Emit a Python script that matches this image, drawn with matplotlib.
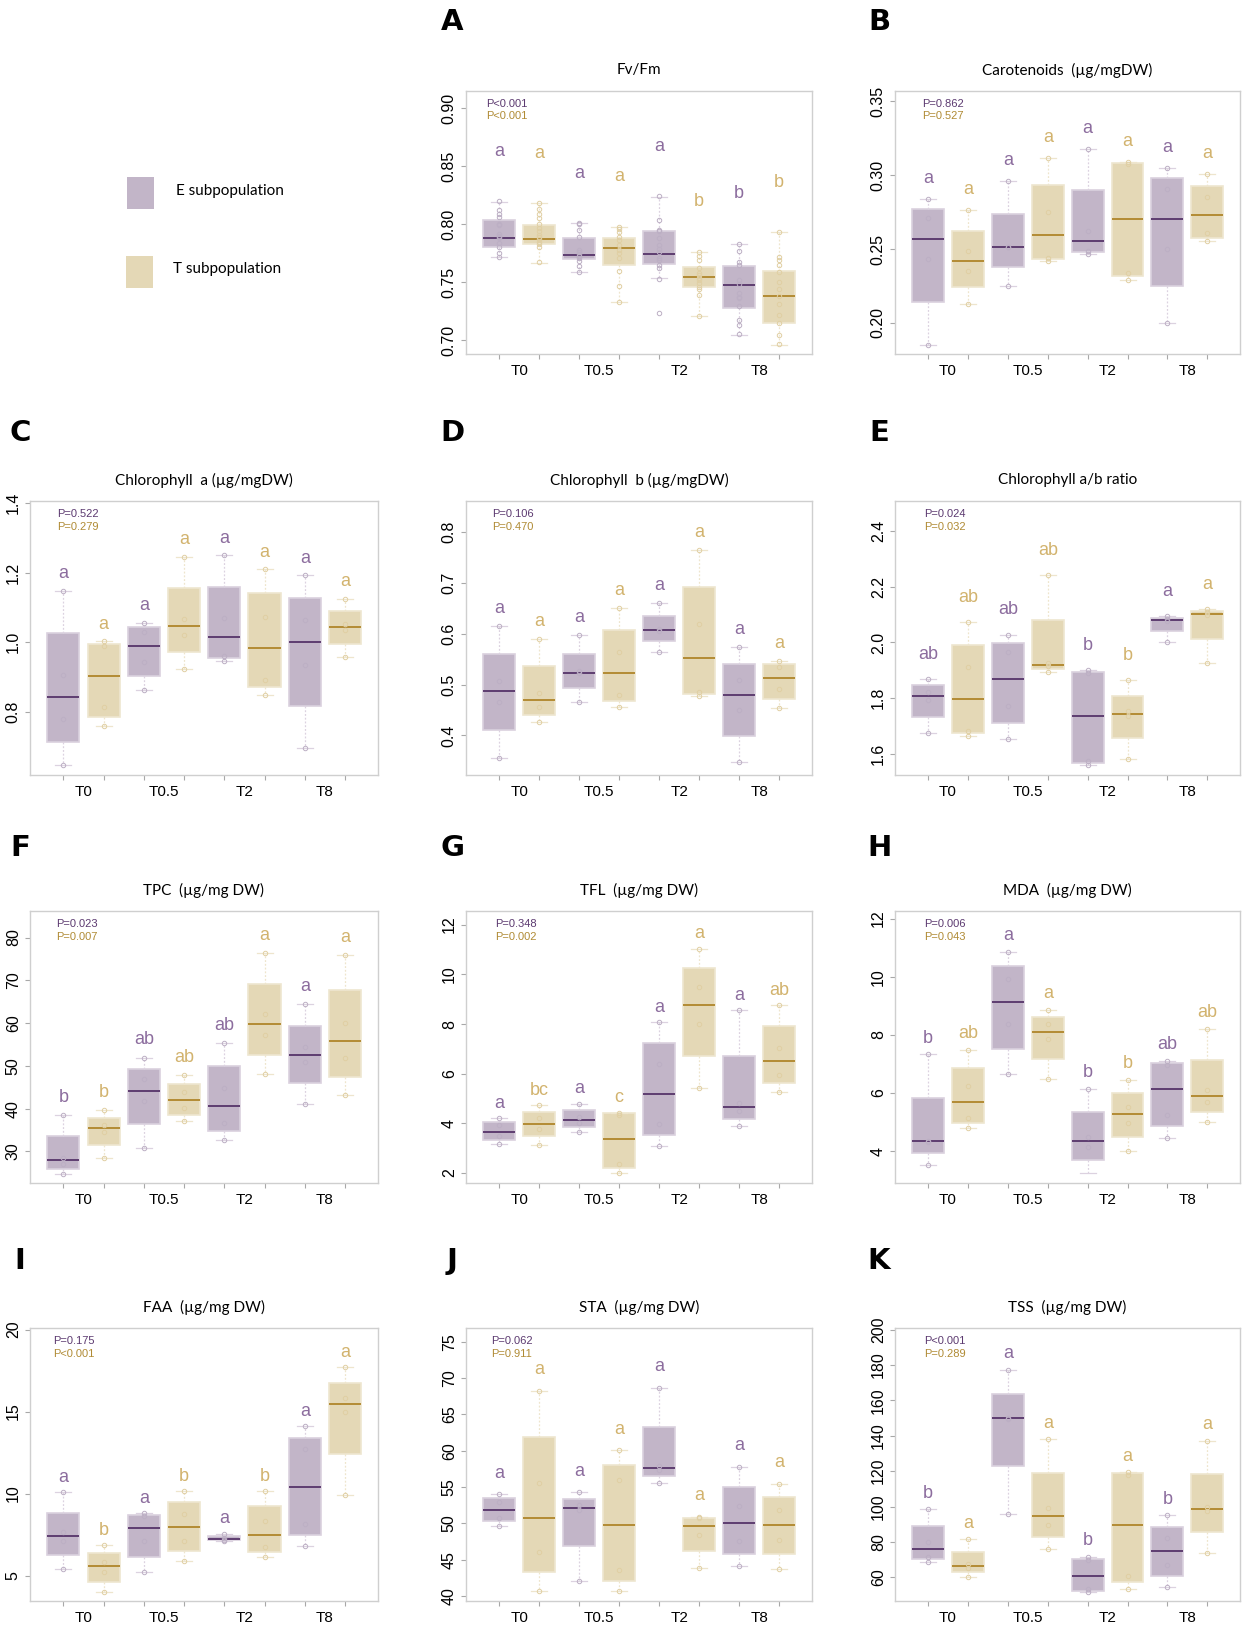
import matplotlib
matplotlib.use("Agg")
import matplotlib.pyplot as plt
from matplotlib.patches import Rectangle

# ---------------------------------------------------------------- data
# box stats per time point: [whislo, q1, median, q3, whishi]
times = ["T0", "T0.5", "T2", "T8"]

a_title = "Fv/Fm"
a_p = ["P<0.001", "P<0.001"]
a_e = [[0.772, 0.780, 0.7885, 0.8035, 0.8196], [0.759, 0.770, 0.7738, 0.7879, 0.8009],
       [0.7533, 0.766, 0.7746, 0.7945, 0.8239], [0.7046, 0.7274, 0.7478, 0.7643, 0.783]]
a_t = [[0.7669, 0.7827, 0.7873, 0.7994, 0.8182], [0.7329, 0.7651, 0.7798, 0.7885, 0.798],
       [0.721, 0.7461, 0.7548, 0.7634, 0.7761], [0.696, 0.715, 0.7383, 0.760, 0.7931]]
a_e_pts = [[0.820, 0.812, 0.809, 0.806, 0.800, 0.799, 0.792, 0.790, 0.789, 0.788, 0.784, 0.780, 0.775, 0.772],
           [0.801, 0.800, 0.795, 0.789, 0.778, 0.776, 0.774, 0.773, 0.771, 0.768, 0.764, 0.759],
           [0.824, 0.804, 0.795, 0.794, 0.788, 0.782, 0.779, 0.776, 0.771, 0.769, 0.765, 0.762, 0.753, 0.723],
           [0.783, 0.777, 0.767, 0.765, 0.752, 0.748, 0.741, 0.737, 0.736, 0.729, 0.717, 0.713, 0.705]]
a_t_pts = [[0.818, 0.813, 0.809, 0.805, 0.800, 0.797, 0.794, 0.791, 0.789, 0.787, 0.785, 0.783, 0.780, 0.767],
           [0.798, 0.796, 0.793, 0.789, 0.786, 0.782, 0.778, 0.775, 0.771, 0.760, 0.747, 0.733],
           [0.776, 0.773, 0.769, 0.762, 0.758, 0.756, 0.754, 0.752, 0.749, 0.746, 0.744, 0.739, 0.721],
           [0.793, 0.772, 0.769, 0.765, 0.759, 0.750, 0.744, 0.738, 0.731, 0.722, 0.715, 0.704, 0.697]]
a_let_e = ["a", "a", "a", "b"]
a_let_t = ["a", "a", "b", "b"]

b_title = "Carotenoids  (\u00b5g/mgDW)"
b_p = ["P=0.862", "P=0.527"]
b_e = [[0.1853, 0.2142, 0.2568, 0.2771, 0.2839], [0.2248, 0.2379, 0.2514, 0.274, 0.2963],
       [0.2467, 0.2478, 0.2555, 0.29, 0.3177], [0.1998, 0.2248, 0.2704, 0.2979, 0.3051]]
b_t = [[0.2128, 0.2241, 0.2419, 0.2622, 0.2765], [0.242, 0.2431, 0.2595, 0.2932, 0.3116],
       [0.2293, 0.2316, 0.2704, 0.3083, 0.3089], [0.2555, 0.2577, 0.2731, 0.2929, 0.3008]]
b_e_pts = [[0.2839, 0.271, 0.2435, 0.1853], [0.2963, 0.2516, 0.2512, 0.2248],
           [0.3177, 0.2625, 0.249, 0.2467], [0.3051, 0.2909, 0.2503, 0.1998]]
b_t_pts = [[0.2765, 0.2487, 0.2349, 0.2128], [0.3116, 0.2749, 0.2437, 0.242],
           [0.3089, 0.3075, 0.2336, 0.2293], [0.3008, 0.285, 0.2607, 0.2555]]
b_let_e = ["a", "a", "a", "a"]
b_let_t = ["a", "a", "a", "a"]

c_title = "Chlorophyll  a (\u00b5g/mgDW)"
c_p = ["P=0.522", "P=0.279"]
c_e = [[0.6493, 0.715, 0.8439, 1.028, 1.1482], [0.8629, 0.903, 0.9889, 1.0432, 1.0556],
       [0.9478, 0.9545, 1.0146, 1.1596, 1.2502], [0.696, 0.8181, 1.0003, 1.1262, 1.193]]
c_t = [[0.7609, 0.7876, 0.903, 0.9965, 1.0032], [0.925, 0.9726, 1.0461, 1.1567, 1.2455],
       [0.8496, 0.8716, 0.9831, 1.1405, 1.2092], [0.9593, 0.9965, 1.0432, 1.089, 1.1243]]
c_e_pts = [[1.148, 0.9078, 0.7809, 0.6493], [1.0556, 1.0308, 0.944, 0.8629],
           [1.2502, 1.0709, 0.9612, 0.9478], [1.193, 1.0642, 0.9364, 0.696]]
c_t_pts = [[1.0032, 0.9898, 0.8143, 0.7609], [1.2455, 1.068, 1.0222, 0.925],
           [1.2092, 1.0718, 0.8925, 0.8496], [1.1243, 1.0528, 1.0346, 0.9593]]
c_let_e = ["a", "a", "a", "a"]
c_let_t = ["a", "a", "a", "a"]

d_title = "Chlorophyll  b (\u00b5g/mgDW)"
d_p = ["P=0.106", "P=0.470"]
d_e = [[0.3546, 0.4105, 0.4875, 0.5605, 0.6145], [0.4651, 0.4928, 0.5224, 0.5605, 0.5974],
       [0.5638, 0.5849, 0.6072, 0.6355, 0.6612], [0.3474, 0.3987, 0.4789, 0.5401, 0.573]]
d_t = [[0.4257, 0.4408, 0.4697, 0.5362, 0.5895], [0.4566, 0.4684, 0.5224, 0.6072, 0.6507],
       [0.4776, 0.4809, 0.552, 0.6914, 0.7651], [0.4533, 0.4724, 0.5125, 0.5395, 0.546]]
d_e_pts = [[0.6145, 0.5072, 0.4658, 0.3546], [0.5974, 0.5263, 0.5217, 0.4651],
           [0.6612, 0.6092, 0.606, 0.5638], [0.573, 0.5086, 0.4507, 0.3474]]
d_t_pts = [[0.5895, 0.4842, 0.4559, 0.4257], [0.6507, 0.5645, 0.4796, 0.4566],
           [0.7651, 0.6184, 0.4849, 0.4776], [0.546, 0.5336, 0.4921, 0.4533]]
d_let_e = ["a", "a", "a", "a"]
d_let_t = ["a", "a", "a", "a"]

e_title = "Chlorophyll a/b ratio"
e_p = ["P=0.024", "P=0.032"]
e_e = [[1.6744, 1.7319, 1.8075, 1.8459, 1.8699], [1.654, 1.7103, 1.8687, 1.997, 2.0282],
       [1.5616, 1.5688, 1.7343, 1.895, 1.8999], [2.0006, 2.0402, 2.081, 2.087, 2.0942]]
e_t = [[1.6648, 1.6732, 1.7967, 1.9922, 2.0738], [1.8927, 1.9047, 1.919, 2.081, 2.2405],
       [1.5808, 1.6564, 1.7415, 1.8075, 1.8651], [1.9274, 2.0126, 2.1026, 2.1121, 2.1205]]
e_e_pts = [[1.8699, 1.8231, 1.7919, 1.6744], [2.0282, 1.9646, 1.7703, 1.654],
           [1.8999, 1.8903, 1.576, 1.5616], [2.0942, 2.085, 2.078, 2.0006]]
e_t_pts = [[2.0738, 1.9107, 1.6828, 1.6648], [2.2405, 1.9262, 1.9142, 1.8927],
           [1.8651, 1.7535, 1.7343, 1.5808], [2.1205, 2.11, 2.098, 1.9274]]
e_let_e = ["ab", "ab", "b", "a"]
e_let_t = ["ab", "ab", "b", "a"]

f_title = "TPC  (\u00b5g/mg DW)"
f_p = ["P=0.023", "P=0.007"]
f_e = [[24.81, 25.97, 27.91, 33.49, 38.45], [30.85, 36.28, 44.19, 49.3, 51.94],
       [32.64, 34.65, 40.7, 49.92, 55.27], [41.09, 45.89, 52.56, 59.3, 64.42]]
f_t = [[28.45, 31.55, 35.35, 37.91, 39.61], [37.05, 38.53, 42.09, 45.81, 47.83],
       [47.98, 52.64, 59.77, 69.15, 76.28], [43.1, 47.36, 55.81, 67.83, 75.81]]
f_e_pts = [[38.45, 28.53, 27.13, 24.81], [51.94, 46.82, 41.71, 30.85],
           [55.27, 44.73, 36.67, 32.64], [64.42, 54.34, 50.78, 41.09]]
f_t_pts = [[39.61, 36.2, 34.57, 28.45], [47.83, 43.88, 40.08, 37.05],
           [76.28, 62.17, 57.29, 47.98], [75.81, 59.92, 51.78, 43.1]]
f_let_e = ["b", "ab", "ab", "a"]
f_let_t = ["b", "ab", "a", "a"]

g_title = "TFL  (\u00b5g/mg DW)"
g_p = ["P=0.348", "P=0.002"]
g_e = [[3.165, 3.312, 3.673, 4.075, 4.222], [3.673, 3.847, 4.129, 4.53, 4.798],
       [3.071, 3.526, 5.173, 7.221, 8.091], [3.9, 4.195, 4.651, 6.699, 8.573]]
g_t = [[3.138, 3.473, 3.995, 4.477, 4.731], [2.0, 2.201, 3.366, 4.41, 4.436],
       [5.44, 6.699, 8.747, 10.26, 11.036], [5.253, 5.614, 6.498, 7.904, 8.774]]
g_e_pts = [[4.222, 3.941, 3.473, 3.165], [4.798, 4.263, 4.008, 3.673],
           [8.091, 6.391, 3.981, 3.071], [8.573, 4.825, 4.503, 3.9]]
g_t_pts = [[4.731, 4.236, 3.794, 3.138], [4.436, 4.343, 2.375, 2.0],
           [11.036, 9.483, 7.984, 5.44], [8.774, 7.033, 5.963, 5.253]]
g_let_e = ["a", "a", "a", "a"]
g_let_t = ["bc", "c", "a", "ab"]

h_title = "MDA  (\u00b5g/mg DW)"
h_p = ["P=0.006", "P=0.043"]
h_e = [[3.529, 3.931, 4.333, 5.828, 7.322], [6.644, 7.517, 9.126, 10.38, 10.851],
       [3.241, 3.69, 4.333, 5.333, 6.149], [4.448, 4.851, 6.138, 7.034, 7.092]]
h_t = [[4.805, 4.966, 5.69, 6.862, 7.483], [6.471, 7.161, 8.092, 8.621, 8.851],
       [4.0, 4.494, 5.276, 5.989, 6.448], [5.011, 5.345, 5.897, 7.138, 8.207]]
h_e_pts = [[7.322, 4.35, 4.31, 3.529], [10.851, 9.908, 8.356, 6.644],
           [6.149, 4.494, 4.149], [7.092, 6.977, 5.253, 4.448]]
h_t_pts = [[7.483, 6.23, 5.149, 4.805], [8.851, 8.356, 7.839, 6.471],
           [6.448, 5.529, 4.977, 4.0], [8.207, 6.092, 5.678, 5.011]]
h_let_e = ["b", "a", "b", "ab"]
h_let_t = ["ab", "a", "b", "ab"]

i_title = "FAA  (\u00b5g/mg DW)"
i_p = ["P=0.175", "P<0.001"]
i_e = [[5.387, 6.246, 7.41, 8.841, 10.088], [5.203, 6.164, 7.901, 8.698, 8.8],
       [7.124, 7.186, 7.247, 7.39, 7.554], [6.818, 7.472, 10.415, 13.4, 14.094]]
i_t = [[4.018, 4.631, 5.571, 6.348, 6.838], [5.898, 6.511, 7.962, 9.495, 10.17],
       [6.164, 6.409, 7.472, 9.25, 10.17], [9.94, 12.44, 15.44, 16.77, 17.71]]
i_e_pts = [[10.088, 7.635, 7.124, 5.387], [8.8, 8.65, 7.124, 5.203],
           [7.554, 7.3, 7.2, 7.124], [14.094, 12.724, 8.17, 6.818]]
i_t_pts = [[6.838, 5.858, 5.224, 4.018], [10.17, 8.78, 7.124, 5.898],
           [10.17, 8.31, 6.716, 6.164], [17.71, 15.85, 14.99, 9.94]]
i_let_e = ["a", "a", "a", "a"]
i_let_t = ["b", "b", "b", "a"]

j_title = "STA  (\u00b5g/mg DW)"
j_p = ["P=0.062", "P=0.911"]
j_e = [[49.66, 50.25, 51.82, 53.43, 53.98], [42.07, 46.94, 52.09, 53.33, 54.25],
       [55.5, 56.46, 57.61, 63.22, 68.65], [44.09, 45.84, 50.02, 55.04, 57.8]]
j_t = [[40.73, 43.35, 50.71, 61.84, 68.24], [40.64, 42.11, 49.75, 58.03, 60.05],
       [43.9, 46.2, 49.61, 50.8, 50.85], [43.68, 45.75, 49.75, 53.61, 55.4]]
j_e_pts = [[53.98, 52.97, 50.8, 49.66], [54.25, 52.5, 51.77, 42.07],
           [68.65, 57.84, 57.38, 55.5], [57.8, 52.37, 47.63, 44.09]]
j_t_pts = [[68.24, 55.5, 45.98, 40.73], [60.05, 56.0, 43.54, 40.64],
           [50.85, 50.8, 48.41, 43.9], [55.4, 51.86, 47.68, 43.68]]
j_let_e = ["a", "a", "a", "a"]
j_let_t = ["a", "a", "a", "a"]

k_title = "TSS  (\u00b5g/mg DW)"
k_p = ["P<0.001", "P=0.289"]
k_e = [[68.68, 70.19, 75.85, 88.87, 98.5], [95.66, 122.64, 150.0, 163.6, 177.2],
       [51.7, 52.45, 60.94, 70.19, 71.51], [54.34, 60.75, 74.72, 88.68, 95.09]]
k_t = [[60.0, 62.83, 66.23, 74.53, 81.51], [75.85, 83.02, 94.53, 118.7, 138.1],
       [53.21, 57.17, 89.62, 118.68, 119.43], [73.58, 85.47, 98.87, 118.3, 136.98]]
k_e_pts = [[98.5, 79.81, 71.7, 68.68], [177.2, 150.2, 149.6, 95.66],
           [71.51, 69.62, 53.2, 51.7], [95.09, 82.45, 66.98, 54.34]]
k_t_pts = [[81.51, 67.74, 65.47, 60.0], [138.1, 99.43, 89.81, 75.85],
           [119.43, 117.92, 60.94, 53.21], [136.98, 99.81, 97.74, 73.58]]
k_let_e = ["b", "a", "b", "b"]
k_let_t = ["a", "a", "a", "a"]

# ---------------------------------------------------------------- layout
W, H = 1243, 1626
# panel, col, row, ylim, yticks, tick fmt, p-text x, letter offset, then data
panels = [
    ("A", 1, 0, (0.688, 0.915), [0.70, 0.75, 0.80, 0.85, 0.90], "{:.2f}", 0.67, 0.19,
     a_title, a_p, a_e, a_t, a_e_pts, a_t_pts, a_let_e, a_let_t),
    ("B", 2, 0, (0.179, 0.357), [0.20, 0.25, 0.30, 0.35], "{:.2f}", 0.85, 0.078,
     b_title, b_p, b_e, b_t, b_e_pts, b_t_pts, b_let_e, b_let_t),
    ("C", 0, 1, (0.62, 1.405), [0.8, 1.0, 1.2, 1.4], "{:.1f}", 0.835, 0.062,
     c_title, c_p, c_e, c_t, c_e_pts, c_t_pts, c_let_e, c_let_t),
    ("D", 1, 1, (0.322, 0.861), [0.4, 0.5, 0.6, 0.7, 0.8], "{:.1f}", 0.82, 0.064,
     d_title, d_p, d_e, d_t, d_e_pts, d_t_pts, d_let_e, d_let_t),
    ("E", 2, 1, (1.524, 2.508), [1.6, 1.8, 2.0, 2.2, 2.4], "{:.1f}", 0.89, 0.09,
     e_title, e_p, e_e, e_t, e_e_pts, e_t_pts, e_let_e, e_let_t),
    ("F", 0, 2, (22.6, 86.2), [30, 40, 50, 60, 70, 80], "{:.0f}", 0.83, 0.065,
     f_title, f_p, f_e, f_t, f_e_pts, f_t_pts, f_let_e, f_let_t),
    ("G", 1, 2, (1.6, 12.55), [2, 4, 6, 8, 10, 12], "{:.0f}", 0.89, 0.054,
     g_title, g_p, g_e, g_t, g_e_pts, g_t_pts, g_let_e, g_let_t),
    ("H", 2, 2, (2.9, 12.26), [4, 6, 8, 10, 12], "{:.0f}", 0.89, 0.06,
     h_title, h_p, h_e, h_t, h_e_pts, h_t_pts, h_let_e, h_let_t),
    ("I", 0, 3, (3.45, 20.1), [5, 10, 15, 20], "{:.0f}", 0.75, 0.054,
     i_title, i_p, i_e, i_t, i_e_pts, i_t_pts, i_let_e, i_let_t),
    ("J", 1, 3, (39.3, 76.9), [40, 45, 50, 55, 60, 65, 70, 75], "{:.0f}", 0.8, 0.078,
     j_title, j_p, j_e, j_t, j_e_pts, j_t_pts, j_let_e, j_let_t),
    ("K", 2, 3, (46.6, 200.9), [60, 80, 100, 120, 140, 160, 180, 200], "{:.0f}", 0.89, 0.059,
     k_title, k_p, k_e, k_t, k_e_pts, k_t_pts, k_let_e, k_let_t),
]

col_x = [(30, 378), (466, 812), (895, 1240)]
row_y = [(91, 354), (501, 775), (911, 1183), (1328, 1601)]
letter_x = [20, 452, 879]
letter_y = [22, 433, 848, 1261]

E_FILL, T_FILL = "#C2B5C8", "#E4D8B6"
E_EDGE, T_EDGE = "#DAD1DE", "#EEE6D0"
E_MED, T_MED = "#5E3D70", "#B38B34"
E_WHISK, T_WHISK = "#DCD2E0", "#EEE5CD"
E_PT, T_PT = "#BCAFC4", "#E0CFA3"
E_LET, T_LET = "#8C6D9E", "#D2B36E"
E_P, T_P = "#5C3A70", "#B08B35"
TICKFONT = "Liberation Sans"

fig = plt.figure(figsize=(W / 100, H / 100), dpi=100)


def draw_group(ax, stats, pts, pos, fill, edge, med, whisk, ptc):
    bx = [dict(whislo=s[0], q1=s[1], med=s[2], q3=s[3], whishi=s[4], fliers=[]) for s in stats]
    ax.bxp(bx, positions=pos, widths=0.8, patch_artist=True, showfliers=False,
           capwidths=0.4,
           boxprops=dict(facecolor=fill, edgecolor=edge, linewidth=1.2),
           medianprops=dict(color=med, linewidth=1.4),
           whiskerprops=dict(color=whisk, linewidth=0.9, linestyle=(0, (1.5, 1.5))),
           capprops=dict(color=whisk, linewidth=0.9))
    for p, vals in zip(pos, pts):
        ax.plot([p] * len(vals), vals, "o", mfc="none", mec=ptc, ms=3.2, mew=0.7, zorder=4)


for (lab, c, r, ylim, yt, fmt, px, loff, title, pv, se, st, pe, pt, le, lt) in panels:
    x1, x2 = col_x[c]
    y1, y2 = row_y[r]
    ax = fig.add_axes([x1 / W, 1 - y2 / H, (x2 - x1) / W, (y2 - y1) / H])
    e_pos = [1, 3, 5, 7]
    t_pos = [2, 4, 6, 8]
    draw_group(ax, se, pe, e_pos, E_FILL, E_EDGE, E_MED, E_WHISK, E_PT)
    draw_group(ax, st, pt, t_pos, T_FILL, T_EDGE, T_MED, T_WHISK, T_PT)

    ax.set_xlim(0.17, 8.82)
    ax.set_ylim(*ylim)
    span = ylim[1] - ylim[0]
    for p, s, l in zip(e_pos, se, le):
        ax.text(p, s[4] + loff * span, l, color=E_LET, ha="center", va="center",
                fontsize=13, family=TICKFONT)
    for p, s, l in zip(t_pos, st, lt):
        ax.text(p, s[4] + loff * span, l, color=T_LET, ha="center", va="center",
                fontsize=13, family=TICKFONT)

    ax.set_xticks(range(1, 9))
    ax.set_xticklabels([])
    ax.set_xticks([1.5, 3.5, 5.5, 7.5], minor=True)
    ax.set_xticklabels(times, minor=True, fontsize=11, family=TICKFONT)
    ax.tick_params(axis="x", which="major", length=3.6, width=0.8, color="#A8A8A8")
    ax.tick_params(axis="x", which="minor", length=0, pad=7)
    ax.set_yticks(yt)
    ax.set_yticklabels([fmt.format(v) for v in yt], rotation=90, va="center",
                       fontsize=11.5, family=TICKFONT)
    ax.tick_params(axis="y", length=3.6, width=0.8, color="#A8A8A8", pad=3)
    for sp in ax.spines.values():
        sp.set_color("#CFCFCF")
        sp.set_linewidth(1.0)

    tr = ax.get_xaxis_transform()
    ax.text(px, 0.952, pv[0], color=E_P, transform=tr, fontsize=8,
            family=TICKFONT, va="center", ha="left")
    ax.text(px, 0.905, pv[1], color=T_P, transform=tr, fontsize=8,
            family=TICKFONT, va="center", ha="left")

    ax.text(0.5, 1 + 21 / (y2 - y1), title, transform=ax.transAxes, ha="center",
            va="center", fontsize=11, family="Lato")

    fig.text(letter_x[c] / W, 1 - letter_y[r] / H, lab, ha="center", va="center",
             fontsize=21, fontweight="bold", family="DejaVu Sans")

# legend (top-left empty slot)
fig.patches.append(Rectangle((127 / W, 1 - 209 / H), 27 / W, 32 / H, transform=fig.transFigure,
                             facecolor=E_FILL, edgecolor="none"))
fig.patches.append(Rectangle((126 / W, 1 - 288 / H), 27 / W, 32 / H, transform=fig.transFigure,
                             facecolor=T_FILL, edgecolor="none"))
fig.text(176 / W, 1 - 191 / H, "E subpopulation", ha="left", va="center", fontsize=11, family="Lato")
fig.text(173 / W, 1 - 269 / H, "T subpopulation", ha="left", va="center", fontsize=11, family="Lato")

fig.savefig("out.png", dpi=100)
